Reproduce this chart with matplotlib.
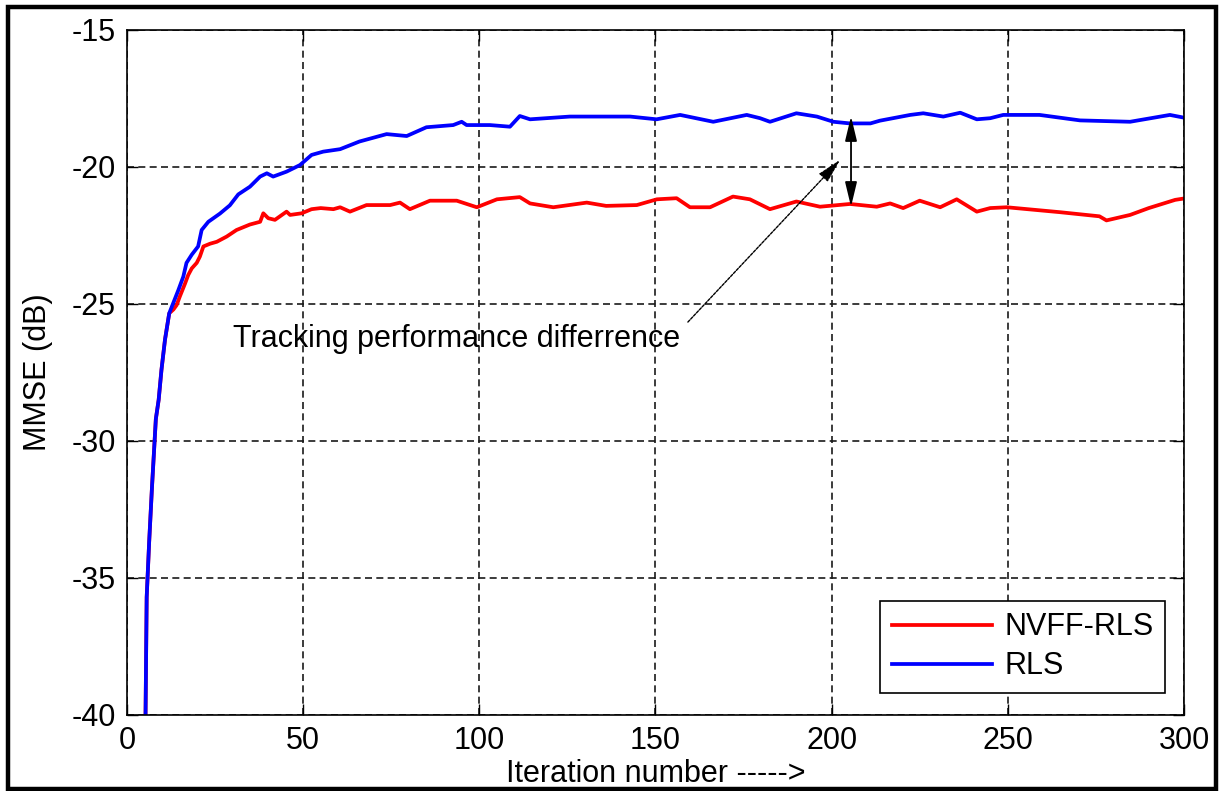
import numpy as np
import matplotlib
matplotlib.use('agg')
import matplotlib.pyplot as plt
from matplotlib.patches import Rectangle

plt.rcParams['font.family'] = ['Liberation Sans', 'DejaVu Sans']
plt.rcParams['axes.unicode_minus'] = False

fs = 22

# RLS learning curve (iteration, MMSE in dB)
rls_iter = [5.2, 5.6, 6.3, 7.1, 8.2, 9.0, 9.8, 10.8, 12.0, 13.1, 14.6, 16.0, 16.9, 18.4,
            20.2, 21.2, 23.1, 26.4, 29.2, 31.6, 34.9, 37.8, 39.7, 41.5, 45.3, 49.1, 52.4,
            55.7, 60.5, 66.0, 73.7, 79.4, 85.0, 92.6, 95.0, 96.4, 103.0, 108.7, 111.5,
            114.4, 125.7, 142.8, 150.3, 157.0, 166.4, 175.9, 179.7, 182.5, 190.0, 195.8,
            200.5, 205.2, 211.0, 213.7, 222.3, 226.0, 231.7, 236.5, 241.2, 245.0, 248.7,
            259.0, 270.5, 284.7, 296.0, 300.0]
rls_mmse = [-41.0, -35.7, -33.7, -31.7, -29.2, -28.5, -27.4, -26.3, -25.34, -24.98, -24.49,
            -24.0, -23.5, -23.2, -22.9, -22.3, -22.0, -21.7, -21.4, -21.0, -20.72, -20.35,
            -20.23, -20.35, -20.17, -19.93, -19.56, -19.44, -19.35, -19.07, -18.8, -18.87,
            -18.55, -18.47, -18.35, -18.47, -18.47, -18.53, -18.14, -18.26, -18.16, -18.16,
            -18.26, -18.1, -18.35, -18.1, -18.22, -18.35, -18.04, -18.16, -18.35, -18.41,
            -18.41, -18.31, -18.1, -18.04, -18.16, -18.02, -18.26, -18.22, -18.1, -18.1,
            -18.3, -18.35, -18.1, -18.2]

# NVFF-RLS learning curve
nvff_iter = [5.2, 5.6, 6.3, 7.1, 8.2, 9.0, 9.8, 10.8, 12.0, 13.2, 14.1, 15.0, 16.5, 17.4,
             18.4, 19.8, 20.7, 21.7, 23.6, 25.5, 28.3, 31.1, 34.9, 37.8, 38.7, 40.1, 42.0,
             45.3, 46.3, 49.6, 52.4, 55.0, 58.6, 60.5, 63.3, 68.0, 74.7, 77.5, 80.3, 86.0,
             93.6, 99.3, 105.0, 111.5, 114.4, 121.0, 130.5, 136.0, 144.7, 150.4, 156.0,
             159.8, 165.5, 172.0, 176.8, 182.5, 190.0, 196.7, 205.2, 212.8, 216.6, 220.3,
             225.0, 230.8, 235.5, 241.2, 245.0, 249.7, 264.8, 276.0, 278.0, 284.7, 290.0,
             297.5, 300.0]
nvff_mmse = [-41.0, -35.7, -33.7, -31.7, -29.2, -28.5, -27.4, -26.3, -25.34, -25.2, -25.04,
             -24.73, -24.25, -23.94, -23.7, -23.5, -23.27, -22.9, -22.8, -22.73, -22.54,
             -22.3, -22.1, -22.0, -21.69, -21.87, -21.93, -21.63, -21.75, -21.69, -21.54,
             -21.5, -21.54, -21.47, -21.63, -21.39, -21.39, -21.3, -21.54, -21.23, -21.23,
             -21.47, -21.18, -21.1, -21.33, -21.47, -21.3, -21.42, -21.39, -21.18, -21.14,
             -21.47, -21.47, -21.08, -21.18, -21.54, -21.26, -21.45, -21.35, -21.45, -21.33,
             -21.5, -21.23, -21.47, -21.18, -21.63, -21.5, -21.47, -21.65, -21.8, -21.95,
             -21.75, -21.5, -21.2, -21.15]

gap_iter = 205.5
gap_top, gap_bottom = -18.15, -21.45
note_text = 'Tracking performance differrence'

fig = plt.figure(figsize=(12.23, 7.91), dpi=100)
ax = fig.add_axes([0.1038, 0.0961, 0.8643, 0.866])

ax.plot(nvff_iter, nvff_mmse, color='#ff0000', lw=2.7, label='NVFF-RLS')
ax.plot(rls_iter, rls_mmse, color='#0000ff', lw=2.7, label='RLS')

ax.set_xlim(0, 300)
ax.set_ylim(-40, -15)
ax.set_xticks(np.arange(0, 301, 50))
ax.set_yticks(np.arange(-40, -14, 5))
ax.grid(True, color='#1a1a1a', linestyle=(0, (4.2, 2.6)), lw=1.2)
ax.tick_params(direction='in', length=8, width=1, top=True, right=True,
               labelsize=fs, pad=8)
for sp in ax.spines.values():
    sp.set_linewidth(1.2)
ax.set_xlabel('Iteration number ----->', fontsize=fs, labelpad=2)
ax.set_ylabel('MMSE (dB)', fontsize=fs, labelpad=13)

# gap between the two steady-state levels
ax.annotate('', xy=(gap_iter, gap_top), xytext=(gap_iter, gap_bottom),
            arrowprops=dict(arrowstyle='<|-|>,head_length=0.75,head_width=0.18',
                            color='black', lw=1.3, mutation_scale=20,
                            shrinkA=0, shrinkB=0))
ax.annotate('', xy=(202.4, -19.74), xytext=(159.2, -25.66),
            arrowprops=dict(arrowstyle='-|>,head_length=0.75,head_width=0.18',
                            color='black', lw=1.0, linestyle=(0, (2, 1)),
                            mutation_scale=20, shrinkA=0, shrinkB=0))
ax.text(30.1, -26.56, note_text, fontsize=fs, va='baseline', ha='left')

leg = ax.legend(loc='lower right', fontsize=fs, frameon=True, fancybox=False,
                edgecolor='black', framealpha=1, handlelength=3.3,
                borderpad=0.38, labelspacing=0.3, handletextpad=0.38,
                borderaxespad=0, bbox_to_anchor=(0.982, 0.032))
leg.get_frame().set_linewidth(1.2)

fig.patches.append(Rectangle((0.0065, 0.003), 0.9875, 0.9885, transform=fig.transFigure,
                             fill=False, edgecolor='black', lw=3.2))

fig.savefig('out.png', dpi=100)
